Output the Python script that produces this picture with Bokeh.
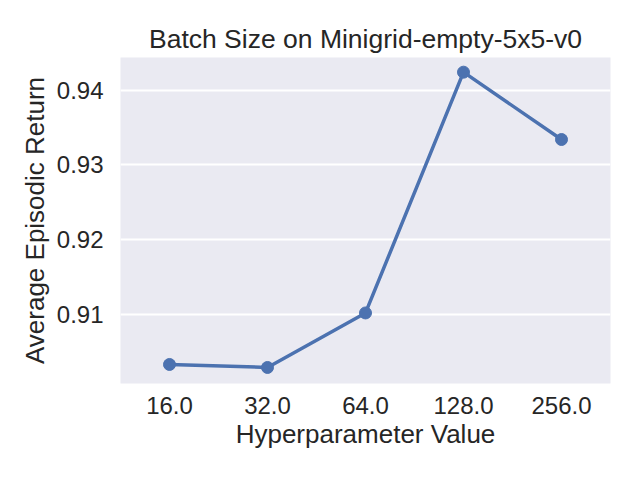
from bokeh.plotting import figure
from bokeh.models import FixedTicker, CustomJSTickFormatter, Range1d, FactorRange
from bokeh.embed import file_html
from bokeh.resources import INLINE

categories = ["16.0", "32.0", "64.0", "128.0", "256.0"]
returns = [0.90335, 0.90295, 0.91023, 0.94238, 0.93339]
y_ticks = [0.91, 0.92, 0.93, 0.94]

FONT = "Liberation Sans"
TEXT = "#262626"
BLUE = "#4C72B0"

p = figure(width=624, height=464, output_backend="svg", toolbar_location=None,
           x_range=FactorRange(factors=categories),
           y_range=Range1d(0.90081, 0.94434),
           min_border_left=120, min_border_right=14, min_border_top=57, min_border_bottom=81,
           title="Batch Size on Minigrid-empty-5x5-v0")

p.background_fill_color = "#EAEAF2"
p.border_fill_color = "white"
p.outline_line_color = None

p.title.text_font = FONT
p.title.text_font_size = "26.5px"
p.title.text_font_style = "normal"
p.title.text_color = TEXT
p.title.align = "center"
p.title.standoff = 7

p.xgrid.grid_line_color = None
p.ygrid.grid_line_color = "white"
p.ygrid.grid_line_width = 1.8

for ax in (p.xaxis[0], p.yaxis[0]):
    ax.axis_line_color = None
    ax.major_tick_line_color = None
    ax.minor_tick_line_color = None
    ax.major_tick_out = 0
    ax.major_tick_in = 0
    ax.major_label_text_font = FONT
    ax.major_label_text_font_size = "24px"
    ax.major_label_text_color = TEXT
    ax.axis_label_text_font = FONT
    ax.axis_label_text_font_size = "26px"
    ax.axis_label_text_font_style = "normal"
    ax.axis_label_text_color = TEXT

p.yaxis.ticker = FixedTicker(ticks=y_ticks)
p.yaxis.formatter = CustomJSTickFormatter(code="return tick.toFixed(2);")
p.yaxis.axis_label = "Average Episodic Return"
p.yaxis.major_label_standoff = 17
p.yaxis.axis_label_standoff = 4

p.xaxis.axis_label = "Hyperparameter Value"
p.xaxis.major_label_standoff = 13
p.xaxis.axis_label_standoff = 2

p.line(categories, returns, line_color=BLUE, line_width=3.5)
p.scatter(categories, returns, size=12, fill_color=BLUE, line_color=BLUE)

open("out.html", "w").write(file_html(p, INLINE))
